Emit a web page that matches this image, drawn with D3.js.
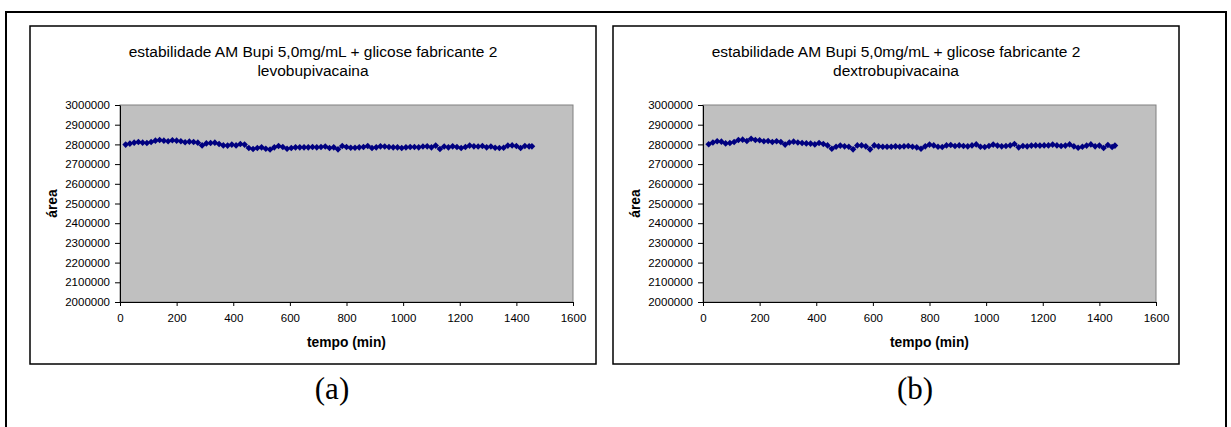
<!DOCTYPE html>
<html>
<head>
<meta charset="utf-8">
<script src="https://cdn.jsdelivr.net/npm/d3@7"></script>
<style>
  body { margin: 0; background: #fff; }
  text { font-family: "Liberation Sans", Arial, sans-serif; fill: #000; }
  .tick line, .domain { stroke: #000; }
</style>
</head>
<body>
<script>
// data
var titleLine = "estabilidade AM Bupi 5,0mg/mL + glicose fabricante 2";
var subtitles = ["levobupivacaina", "dextrobupivacaina"];
var panelLabels = ["(a)", "(b)"];
var xTitle = "tempo (min)";
var yTitle = "área";

var xTicks = [0, 200, 400, 600, 800, 1000, 1200, 1400, 1600];
var yTicks = [2000000, 2100000, 2200000, 2300000, 2400000, 2500000, 2600000, 2700000, 2800000, 2900000, 3000000];

var tempo = [
  20, 35, 50, 65, 80, 95, 110, 125, 140, 155,
  170, 185, 200, 215, 230, 245, 260, 275, 290, 305,
  320, 335, 350, 365, 380, 395, 410, 425, 440, 455,
  470, 485, 500, 515, 530, 545, 560, 575, 590, 605,
  620, 635, 650, 665, 680, 695, 710, 725, 740, 755,
  770, 785, 800, 815, 830, 845, 860, 875, 890, 905,
  920, 935, 950, 965, 980, 995, 1010, 1025, 1040, 1055,
  1070, 1085, 1100, 1115, 1130, 1145, 1160, 1175, 1190, 1205,
  1220, 1235, 1250, 1265, 1280, 1295, 1310, 1325, 1340, 1355,
  1370, 1385, 1400, 1415, 1430, 1445, 1455
];

var levoArea = [
  2799000, 2804000, 2809000, 2812000, 2809000, 2807000, 2812000, 2819000, 2822000, 2819000,
  2816000, 2821000, 2819000, 2816000, 2811000, 2814000, 2812000, 2809000, 2795000, 2805000,
  2807000, 2809000, 2802000, 2795000, 2794000, 2799000, 2795000, 2802000, 2799000, 2782000,
  2777000, 2782000, 2785000, 2778000, 2774000, 2785000, 2792000, 2787000, 2778000, 2782000,
  2785000, 2785000, 2785000, 2785000, 2787000, 2785000, 2787000, 2789000, 2782000, 2785000,
  2775000, 2792000, 2787000, 2783000, 2783000, 2785000, 2787000, 2792000, 2782000, 2785000,
  2790000, 2789000, 2787000, 2785000, 2785000, 2782000, 2785000, 2787000, 2787000, 2785000,
  2789000, 2790000, 2785000, 2794000, 2777000, 2789000, 2785000, 2790000, 2787000, 2782000,
  2787000, 2794000, 2790000, 2789000, 2792000, 2785000, 2789000, 2783000, 2782000, 2783000,
  2794000, 2795000, 2792000, 2782000, 2792000, 2790000, 2790000
];

var dextroArea = [
  2801000, 2810000, 2816000, 2814000, 2805000, 2807000, 2812000, 2822000, 2824000, 2817000,
  2829000, 2822000, 2821000, 2816000, 2817000, 2812000, 2816000, 2812000, 2799000, 2810000,
  2814000, 2810000, 2807000, 2805000, 2804000, 2800000, 2807000, 2802000, 2795000, 2778000,
  2788000, 2794000, 2790000, 2788000, 2775000, 2795000, 2795000, 2790000, 2775000, 2795000,
  2790000, 2788000, 2788000, 2788000, 2790000, 2788000, 2790000, 2792000, 2788000, 2785000,
  2778000, 2790000, 2799000, 2795000, 2788000, 2787000, 2795000, 2797000, 2792000, 2795000,
  2792000, 2790000, 2795000, 2800000, 2788000, 2787000, 2792000, 2799000, 2794000, 2790000,
  2792000, 2795000, 2802000, 2785000, 2792000, 2790000, 2794000, 2795000, 2794000, 2795000,
  2795000, 2799000, 2795000, 2792000, 2794000, 2800000, 2790000, 2783000, 2788000, 2794000,
  2800000, 2790000, 2794000, 2782000, 2797000, 2787000, 2794000
];

var svgWidth = 1231;
var svgHeight = 427;

var svg = d3.select("body")
  .append("svg")
  .attr("width", svgWidth)
  .attr("height", svgHeight);

// outer box (bottom edge runs off the page)
svg.append("rect")
  .attr("x", 6).attr("y", 12)
  .attr("width", 1220).attr("height", 440)
  .attr("fill", "none")
  .attr("stroke", "#000")
  .attr("stroke-width", 2);

// plot area inside each chart
var plot = { left: 120, top: 105, width: 453, height: 197 };

var xScale = d3.scaleLinear().domain([0, 1600]).range([plot.left, plot.left + plot.width]);
var yScale = d3.scaleLinear().domain([2000000, 3000000]).range([plot.top + plot.height, plot.top]);

function drawChart(offsetX, subtitle, values, label) {
  var g = svg.append("g").attr("transform", `translate(${offsetX}, 0)`);

  // chart frame
  g.append("rect")
    .attr("x", 30).attr("y", 26)
    .attr("width", 566).attr("height", 338)
    .attr("fill", "#fff")
    .attr("stroke", "#000")
    .attr("stroke-width", 1.5);

  // title
  g.append("text")
    .attr("x", 313).attr("y", 57)
    .attr("text-anchor", "middle")
    .style("font-size", "15.5px")
    .text(titleLine);
  g.append("text")
    .attr("x", 313).attr("y", 75.5)
    .attr("text-anchor", "middle")
    .style("font-size", "15.5px")
    .text(subtitle);

  // grey plot background
  g.append("rect")
    .attr("x", plot.left).attr("y", plot.top)
    .attr("width", plot.width).attr("height", plot.height)
    .attr("fill", "#c0c0c0")
    .attr("stroke", "#808080")
    .attr("stroke-width", 1);

  var leftAxis = d3.axisLeft(yScale)
    .tickValues(yTicks)
    .tickFormat(d3.format("d"))
    .tickSize(5)
    .tickSizeOuter(0)
    .tickPadding(5);

  var bottomAxis = d3.axisBottom(xScale)
    .tickValues(xTicks)
    .tickFormat(d3.format("d"))
    .tickSize(4)
    .tickSizeOuter(0)
    .tickPadding(8);

  g.append("g")
    .attr("transform", `translate(${plot.left}, 0)`)
    .call(leftAxis)
    .call(a => a.selectAll("text").style("font-size", "11.5px").style("font-family", "Liberation Sans, Arial, sans-serif"));

  g.append("g")
    .attr("transform", `translate(0, ${plot.top + plot.height})`)
    .call(bottomAxis)
    .call(a => a.selectAll("text").style("font-size", "11.5px").style("font-family", "Liberation Sans, Arial, sans-serif"));

  // series line + diamond markers
  var pts = tempo.map((t, i) => ({ t: t, v: values[i] }));

  var line = d3.line()
    .x(d => xScale(d.t))
    .y(d => yScale(d.v));

  g.append("path")
    .datum(pts)
    .attr("d", line)
    .attr("fill", "none")
    .attr("stroke", "#000080")
    .attr("stroke-width", 1);

  g.append("g").selectAll("path")
    .data(pts)
    .enter()
    .append("path")
    .attr("transform", d => `translate(${xScale(d.t)}, ${yScale(d.v)})`)
    .attr("d", "M0,-3.3L3.3,0L0,3.3L-3.3,0Z")
    .attr("fill", "#000080");

  // axis titles
  g.append("text")
    .attr("x", plot.left + plot.width / 2)
    .attr("y", 347)
    .attr("text-anchor", "middle")
    .style("font-size", "13.8px")
    .style("font-weight", "bold")
    .text(xTitle);

  g.append("text")
    .attr("transform", `translate(56.5, ${plot.top + plot.height / 2}) rotate(-90)`)
    .attr("text-anchor", "middle")
    .style("font-size", "13.8px")
    .style("font-weight", "bold")
    .text(yTitle);

  // panel letter under the chart
  g.append("text")
    .attr("x", 332).attr("y", 399)
    .attr("text-anchor", "middle")
    .style("font-family", "Liberation Serif, 'Times New Roman', serif")
    .style("font-size", "31px")
    .text(label);
}

drawChart(0, subtitles[0], levoArea, panelLabels[0]);
drawChart(583, subtitles[1], dextroArea, panelLabels[1]);
</script>
</body>
</html>
